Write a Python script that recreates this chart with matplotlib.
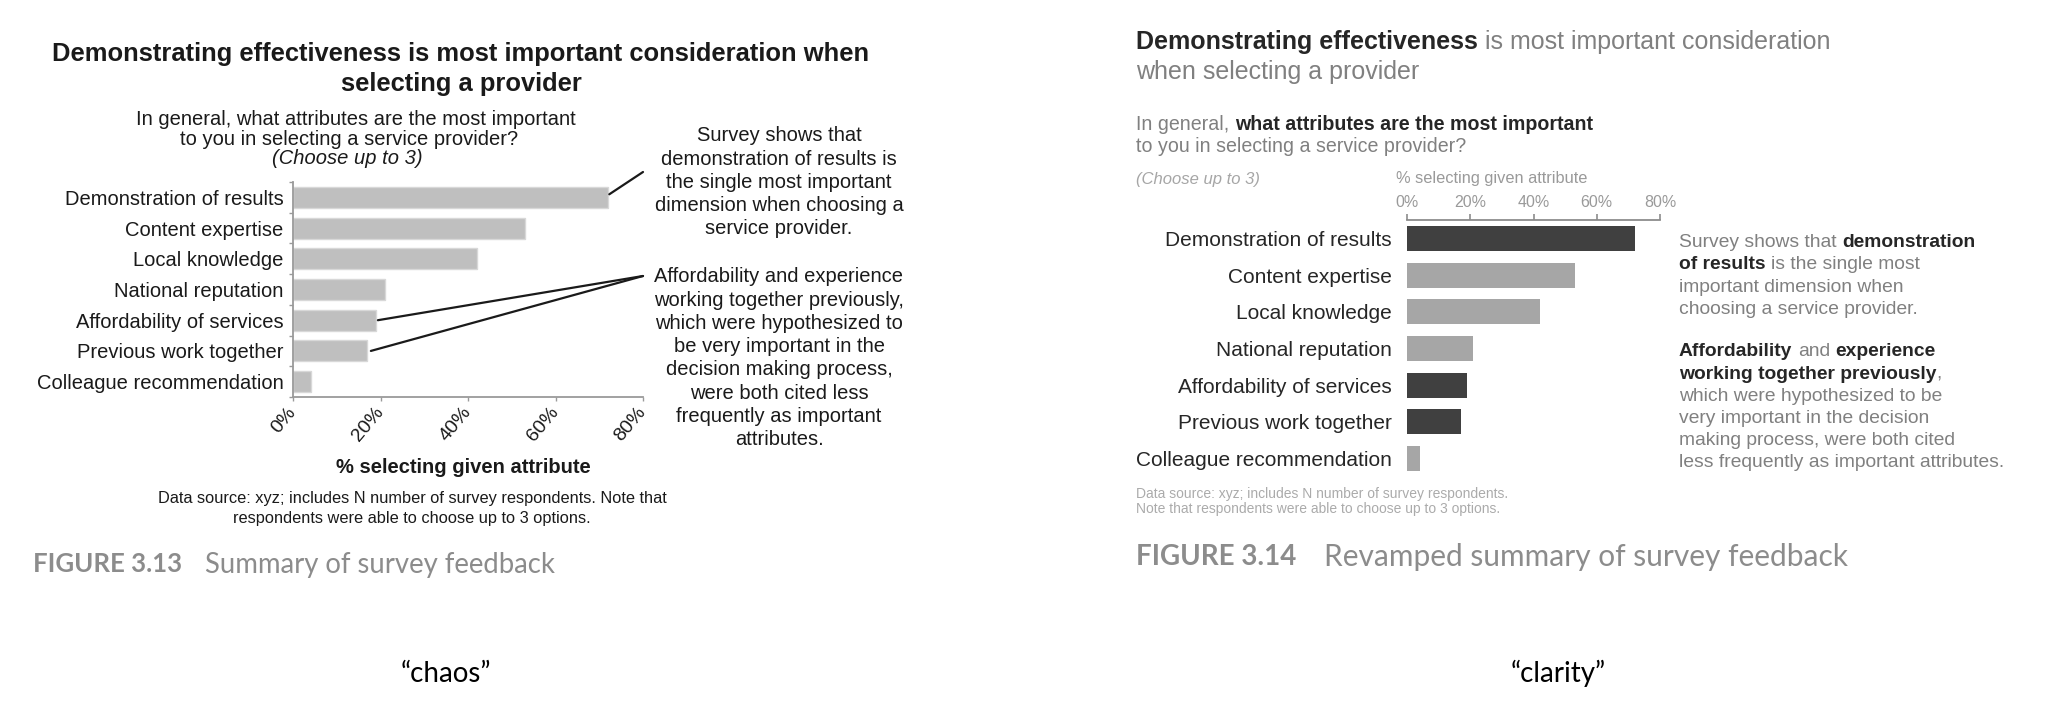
import matplotlib
matplotlib.use("Agg")
import matplotlib.pyplot as plt

# ---------------- data ----------------
categories = ["Demonstration of results", "Content expertise", "Local knowledge",
              "National reputation", "Affordability of services",
              "Previous work together", "Colleague recommendation"]
pct_selected = [72, 53, 42, 21, 19, 17, 4]
highlight = [True, False, False, False, True, True, False]
x_ticks = [0, 20, 40, 60, 80]
x_tick_labels = ["0%", "20%", "40%", "60%", "80%"]
x_axis_label = "% selecting given attribute"

# ---------------- figure ----------------
W, H, DPI = 2048, 722, 100
plt.rcParams['font.family'] = ['Liberation Sans', 'DejaVu Sans']
fig = plt.figure(figsize=(W / DPI, H / DPI), dpi=DPI)
fig.patch.set_facecolor('white')
renderer = fig.canvas.get_renderer()

DARK = '#262626'
GRAY = '#808080'


def fx(x):
    return x / W


def fy(y):
    return 1 - y / H


_space = {}


def space_w(size, weight, style, family):
    key = (size, weight, style, str(family))
    if key not in _space:
        a = fig.text(0, 0, "n n", fontsize=size, fontweight=weight, fontstyle=style, family=family)
        b = fig.text(0, 0, "nn", fontsize=size, fontweight=weight, fontstyle=style, family=family)
        _space[key] = a.get_window_extent(renderer).width - b.get_window_extent(renderer).width
        a.remove()
        b.remove()
    return _space[key]


def rich(x, y, parts, size, ha='left', family=None):
    """parts: list of (text, weight, color[, style]); x,y in pixels (y = visual centre)"""
    if family is None:
        family = ['Liberation Sans', 'DejaVu Sans']
    items = []
    for p in parts:
        s, weight, color = p[0], p[1], p[2]
        style = p[3] if len(p) > 3 else 'normal'
        lead = len(s) - len(s.lstrip(' '))
        trail = len(s) - len(s.rstrip(' '))
        core = s.strip(' ')
        t = fig.text(0, 0, core, fontsize=size, fontweight=weight, color=color,
                     fontstyle=style, va='baseline', ha='left', family=family)
        w = t.get_window_extent(renderer).width
        sw = space_w(size, weight, style, family)
        items.append((t, lead * sw, w, trail * sw))
    total = sum(a + w + c for _, a, w, c in items)
    x0 = x - total / 2 if ha == 'center' else x
    base = y + 0.36 * size * DPI / 72
    for t, a, w, c in items:
        x0 += a
        t.set_position((fx(x0), fy(base)))
        x0 += w + c


ypos = list(range(len(categories)))

# ================= LEFT PANEL ("chaos") =================
axL = fig.add_axes([fx(293), fy(397), (643 - 293) / W, (397 - 182) / H])
axL.barh(ypos, pct_selected, height=0.68, color='#bfbfbf', edgecolor='#d8d8d8', linewidth=1)
axL.set_xlim(0, 80)
axL.set_ylim(len(categories) - 0.5, -0.5)
for s in ['top', 'right']:
    axL.spines[s].set_visible(False)
for s in ['left', 'bottom']:
    axL.spines[s].set_color('#9a9a9a')
    axL.spines[s].set_linewidth(1.3)
axL.set_yticks(ypos)
axL.set_yticklabels(categories, fontsize=14.5, color='#1a1a1a')
axL.tick_params(axis='y', which='major', length=0, pad=7)
axL.set_yticks([i - 0.5 for i in range(len(categories) + 1)], minor=True)
axL.tick_params(axis='y', which='minor', length=3, color='#9a9a9a', width=1)
axL.set_xticks(x_ticks)
axL.set_xticklabels(x_tick_labels, fontsize=14, color='#1a1a1a', rotation=50,
                    ha='right', va='center', rotation_mode='anchor')
axL.tick_params(axis='x', length=3, color='#9a9a9a', width=1, pad=6)

rich(461, 52, [("Demonstrating effectiveness is most important consideration when", 'bold', '#1a1a1a')], 18.4, ha='center')
rich(461, 82, [("selecting a provider", 'bold', '#1a1a1a')], 18.4, ha='center')
rich(356, 118, [("In general, what attributes are the most important", 'normal', '#1a1a1a')], 14.5, ha='center')
rich(349, 138, [("to you in selecting a service provider?", 'normal', '#1a1a1a')], 14.5, ha='center')
rich(347, 157, [("(Choose up to 3)", 'normal', '#1a1a1a', 'italic')], 14.5, ha='center')

left_note1 = ["Survey shows that", "demonstration of results is", "the single most important",
              "dimension when choosing a", "service provider."]
for i, line in enumerate(left_note1):
    rich(779, 134 + 23.3 * i, [(line, 'normal', '#1a1a1a')], 14.5, ha='center')
left_note2 = ["Affordability and experience", "working together previously,",
              "which were hypothesized to", "be very important in the",
              "decision making process,", "were both cited less",
              "frequently as important", "attributes."]
for i, line in enumerate(left_note2):
    rich(779, 275 + 23.3 * i, [(line, 'normal', '#1a1a1a')], 14.5, ha='center')

# connector lines from bars to annotations
conn = dict(arrowstyle='-', color='#1a1a1a', lw=1.6, shrinkA=0, shrinkB=0)
axL.annotate('', xy=(pct_selected[0] + 0.3, 0 - 0.1), xycoords='data',
             xytext=(643, H - 172), textcoords='figure pixels', arrowprops=conn)
axL.annotate('', xy=(pct_selected[4] + 0.4, 4), xycoords='data',
             xytext=(643, H - 276), textcoords='figure pixels', arrowprops=conn)
axL.annotate('', xy=(pct_selected[5] + 0.8, 5), xycoords='data',
             xytext=(643, H - 276), textcoords='figure pixels', arrowprops=conn)

rich(463, 466, [(x_axis_label, 'bold', '#1a1a1a')], 14.5, ha='center')
rich(412, 497, [("Data source: xyz; includes N number of survey respondents. Note that", 'normal', '#1a1a1a')], 11.8, ha='center')
rich(412, 517, [("respondents were able to choose up to 3 options.", 'normal', '#1a1a1a')], 11.8, ha='center')

CAP_FAMILY = ['Lato', 'DejaVu Sans']
CAP_GRAY = '#8c8c8c'
rich(33, 563, [("FIGURE 3.13", 'bold', CAP_GRAY)], 18.5, family=CAP_FAMILY)
rich(205, 563, [("Summary of survey feedback", 'normal', CAP_GRAY)], 19.8, family=CAP_FAMILY)

# ================= RIGHT PANEL ("clarity") =================
axR = fig.add_axes([fx(1407), fy(477), (1660 - 1407) / W, (477 - 220) / H])
bar_colors = ['#404040' if h else '#a6a6a6' for h in highlight]
axR.barh(ypos, pct_selected, height=0.68, color=bar_colors)
axR.set_xlim(0, 80)
axR.set_ylim(len(categories) - 0.5, -0.5)
for s in ['bottom', 'left', 'right']:
    axR.spines[s].set_visible(False)
axR.spines['top'].set_color('#8c8c8c')
axR.spines['top'].set_linewidth(1.3)
axR.xaxis.tick_top()
axR.set_xticks(x_ticks)
axR.set_xticklabels(x_tick_labels, fontsize=11.5, color='#9a9a9a')
axR.tick_params(axis='x', length=4, color='#8c8c8c', width=1.2, pad=3)
axR.set_yticks(ypos)
axR.set_yticklabels(categories, fontsize=15, color=DARK)
axR.tick_params(axis='y', length=0, pad=11)

rich(1136, 40, [("Demonstrating effectiveness", 'bold', DARK),
                (" is most important consideration", 'normal', GRAY)], 18)
rich(1136, 70, [("when selecting a provider", 'normal', GRAY)], 18)
rich(1136, 123, [("In general, ", 'normal', GRAY),
                 ("what attributes are the most important", 'bold', DARK)], 14.1)
rich(1136, 145, [("to you in selecting a service provider?", 'normal', GRAY)], 14.1)
rich(1136, 178, [("(Choose up to 3)", 'normal', '#a6a6a6', 'italic')], 12)
rich(1396, 177, [(x_axis_label, 'normal', '#9a9a9a')], 11.8)

AX = 1679
right_note = [
    (240, [("Survey shows that ", 'normal', GRAY), ("demonstration", 'bold', DARK)]),
    (262.5, [("of results", 'bold', DARK), (" is the single most", 'normal', GRAY)]),
    (285, [("important dimension when", 'normal', GRAY)]),
    (307.3, [("choosing a service provider.", 'normal', GRAY)]),
    (349.3, [("Affordability", 'bold', DARK), (" and ", 'normal', GRAY), ("experience", 'bold', DARK)]),
    (371.7, [("working together previously", 'bold', DARK), (",", 'normal', GRAY)]),
    (394, [("which were hypothesized to be", 'normal', GRAY)]),
    (416, [("very important in the decision", 'normal', GRAY)]),
    (438.3, [("making process, were both cited", 'normal', GRAY)]),
    (460, [("less frequently as important attributes.", 'normal', GRAY)]),
]
for yy, parts in right_note:
    rich(AX, yy, parts, 13.9)

rich(1136, 493, [("Data source: xyz; includes N number of survey respondents.", 'normal', '#ababab')], 10)
rich(1136, 508, [("Note that respondents were able to choose up to 3 options.", 'normal', '#ababab')], 10)

rich(1136, 555, [("FIGURE 3.14", 'bold', CAP_GRAY)], 20, family=CAP_FAMILY)
rich(1324, 555, [("Revamped summary of survey feedback", 'normal', CAP_GRAY)], 21.5, family=CAP_FAMILY)

# ================= bottom labels =================
rich(446, 672, [("\u201cchaos\u201d", 'normal', '#000000')], 20, ha='center', family=CAP_FAMILY)
rich(1558, 672, [("\u201cclarity\u201d", 'normal', '#000000')], 20, ha='center', family=CAP_FAMILY)

fig.savefig("out.png", dpi=DPI, facecolor='white')
